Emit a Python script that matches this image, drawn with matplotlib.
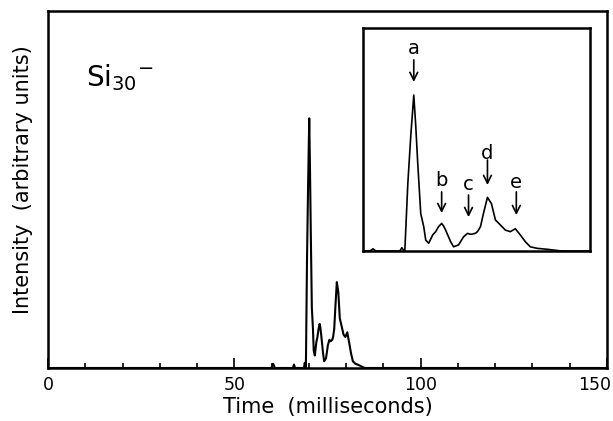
import numpy as np
import matplotlib
matplotlib.use("Agg")
import matplotlib.pyplot as plt
import matplotlib.transforms as mtransforms
from matplotlib.ticker import MultipleLocator

# time-of-flight trace of Si30- (ms, intensity with the main peak = 1)
t_ms = [0.0, 59.9, 60.4, 60.9, 65.7, 66.0, 66.3, 68.7, 68.9, 69.1, 69.2,
        69.5, 69.8, 70.1, 70.3, 70.5, 70.8, 71.1, 71.3, 71.6, 72.0, 72.3,
        72.6, 72.9, 73.1, 73.3, 73.8, 74.1, 74.6, 75.1, 75.5, 75.8, 76.0,
        76.3, 76.5, 76.8, 77.1, 77.5, 77.9, 78.3, 78.8, 79.3, 79.8, 80.3,
        80.8, 81.3, 81.8, 82.5, 83.5, 84.8, 85.5, 150.0]
inten = [0.0, 0.0, 0.017, 0.0, 0.0, 0.014, 0.0, 0.0, 0.021, 0.003, 0.0,
         0.43, 0.74, 1.0, 0.80, 0.56, 0.24, 0.156, 0.07, 0.05, 0.103, 0.124,
         0.157, 0.177, 0.16, 0.134, 0.06, 0.027, 0.039, 0.091, 0.113, 0.107, 0.109,
         0.114, 0.124, 0.156, 0.241, 0.344, 0.304, 0.199, 0.167, 0.134, 0.124, 0.143,
         0.103, 0.06, 0.027, 0.017, 0.011, 0.001, 0.0, 0.0]

# peak labels in the inset
peak_names = ["a", "b", "c", "d", "e"]
peak_t = [70.1, 72.9, 75.6, 77.5, 80.4]

x_ticks = [0, 50, 100, 150]

t_ms = np.array(t_ms)
inten = np.array(inten)

plt.rcParams['font.family'] = ['DejaVu Sans']

fig = plt.figure(figsize=(6.13, 4.21), dpi=100)
ax = fig.add_axes([48/613, 53/421, 559/613, 357/421])

ax.plot(t_ms, inten, color='black', lw=1.5)
ax.set_xlim(0, 150)
ax.set_ylim(0, 1.43)
ax.set_xticks(x_ticks)
ax.xaxis.set_minor_locator(MultipleLocator(10))
ax.tick_params(axis='x', which='major', direction='in', length=7, width=1.2,
               labelsize=12.5, pad=6)
ax.tick_params(axis='x', which='minor', direction='in', length=3.5, width=1.2)
ax.set_yticks([])
for s in ax.spines.values():
    s.set_linewidth(1.8)

# last tick label sits a bit inside the frame, as in the original
lbl = ax.get_xticklabels()[-1]
lbl.set_transform(lbl.get_transform() +
                  mtransforms.ScaledTranslation(-12/100, 0, fig.dpi_scale_trans))

ax.set_xlabel("Time  (milliseconds)", fontsize=15, labelpad=2)
ax.set_ylabel("Intensity  (arbitrary units)", fontsize=15)
ax.yaxis.set_label_coords(-0.027, 0.527)

ax.text(0.068, 0.79, r'$\mathregular{Si_{30}{}^{-}}$', transform=ax.transAxes,
        fontsize=20, ha='left', va='baseline')

# inset zoomed on the cluster peaks
ins = fig.add_axes([363/613, 170/421, 227/613, 223/421])
ins.plot(t_ms, inten, color='black', lw=1.2)
ins.set_xlim(65, 87.8)
ins.set_ylim(0, 1.43)
ins.set_xticks([])
ins.set_yticks([])
for s in ins.spines.values():
    s.set_linewidth(1.8)

lab_y = [0.906, 0.314, 0.296, 0.439, 0.309]
arr_top = [0.857, 0.265, 0.251, 0.408, 0.265]
arr_bot = [0.758, 0.170, 0.152, 0.296, 0.161]
for name, tp, ly, a0, a1 in zip(peak_names, peak_t, lab_y, arr_top, arr_bot):
    ins.text(tp, ly, name, transform=ins.get_xaxis_transform(), fontsize=14,
             ha='center', va='center')
    ins.annotate('', xy=(tp, a1), xytext=(tp, a0),
                 xycoords=('data', 'axes fraction'),
                 textcoords=('data', 'axes fraction'),
                 arrowprops=dict(arrowstyle='->', lw=1.2, color='black',
                                 shrinkA=0, shrinkB=0, mutation_scale=14))

fig.savefig("out.png", dpi=100)
